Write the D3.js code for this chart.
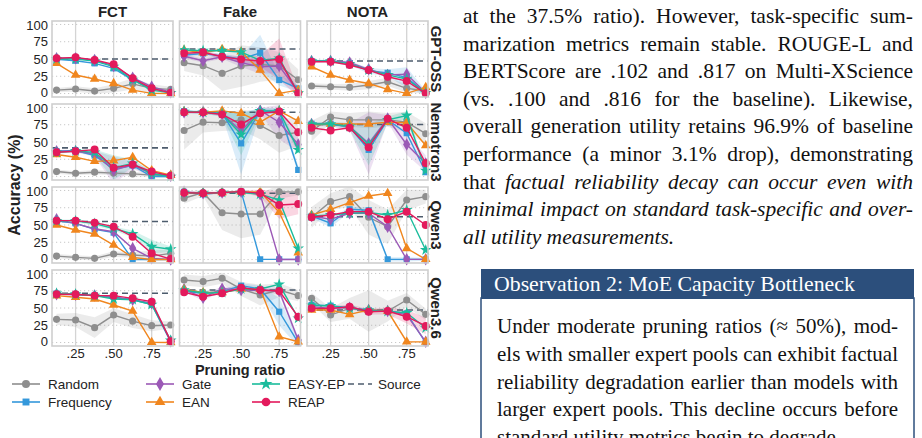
<!DOCTYPE html>
<html lang="en">
<head>
<meta charset="utf-8"/>
<title>Pruning ratio vs accuracy</title>
<script src="https://d3js.org/d3.v7.min.js"></script>
<style>
  body { margin: 0; background: #fff; }
  svg text { font-family: "Liberation Sans", Arial, sans-serif; fill: #222; }
  svg text.serif { font-family: "Liberation Serif", "Times New Roman", serif; fill: #111; }
</style>
</head>
<body>
<script>
var width = 922, height = 438;

var tasks = ["FCT", "Fake", "NOTA"];
var models = ["GPT-OSS", "Nemotron3", "Qwen3", "Qwen3.6"];
var ratios = [0.125, 0.25, 0.375, 0.5, 0.625, 0.75, 0.875];
var xTickValues = [0.25, 0.5, 0.75];
var xTickLabels = [".25", ".50", ".75"];
var yTickValues = [0, 25, 50, 75, 100];

// panels in order: GPT-OSS FCT/Fake/NOTA, Nemotron3 ..., Qwen3 ..., Qwen3.6 ...
var sourceAcc = [50, 64.5, 47, 41.5, 93, 75.4, 55, 96, 62, 71.3, 76, 47];

var randomAcc = [
  [5, 6.5, 3.6, 7.5, 14, 7.5, 6], [44.6, 40.3, 29.2, 39.8, 42, 40, 20], [10.9, 9.9, 9, 12.3, 17, 7.5, 4],
  [7.2, 4.8, 6.3, 5, 3.8, 2, 2], [66.7, 78.7, 77.8, 82, 74, 59.4, 64.2], [65.7, 86, 82, 82, 82, 78.7, 62],
  [5, 3.2, 1.7, 8, 6.5, 5, 9], [88.7, 96.8, 67.8, 66, 66, 98, 98], [61.2, 83.8, 91, 61.2, 47.5, 86.2, 91],
  [33.6, 32.6, 21.5, 39.8, 31, 24.4, 25.4], [90.6, 88.2, 93, 77.5, 68.8, 76, 67.9], [64, 39.8, 49.5, 45.6, 45.6, 61.6, 40.8]
];
var frequencyAcc = [
  [49.6, 47.5, 43.7, 36.5, 19.6, 7.5, 1], [55.8, 58, 54.3, 49.6, 59, 19.6, 7.5], [47, 47, 44, 33, 30, 23, 1],
  [36.7, 37.7, 30.4, 11, 16, 0, 0], [94.6, 93, 91.3, 48, 94.6, 94.6, 9.6], [76.4, 76.4, 71.5, 38.6, 82, 62.8, 6.3],
  [56, 52.4, 43.7, 38.9, 0, 0, 0], [98, 94.6, 96.8, 98.3, 0.3, 0.3, 0.3], [63, 52.5, 72.8, 71.3, 0.3, 0.3, 0.3],
  [71, 70, 68, 66, 62, 55, 1], [74.6, 71.3, 73.6, 82.3, 77.5, 44.6, 0], [54.3, 53.4, 50.5, 47, 45.6, 42.3, 0]
];
var gateAcc = [
  [51, 51, 48.5, 40, 23, 10, 2], [54, 47.5, 53.3, 44.6, 38.8, 39.8, 2.6], [47, 47, 45, 35, 27, 28, 1],
  [36.7, 36.7, 33, 9, 17, 4, 1], [93, 93, 91, 65.7, 95.6, 78.7, 46.4], [76, 75.4, 72.5, 48, 84, 46.4, 19],
  [58.2, 52, 44.6, 40.3, 16.2, 1.7, 0], [98, 96, 97, 98, 94.6, 0, 0], [63, 58.3, 67, 67, 47.5, 0.3, 0.3],
  [70, 69, 68, 65, 62, 57, 2], [77, 65, 78, 76, 76, 74.6, 3.6], [52, 49.5, 50.5, 47, 45.6, 40, 1]
];
var eanAcc = [
  [43.8, 26.8, 21, 14.7, 5, 0.3, 0], [63, 59, 64, 60.6, 34, 0.3, 5], [38.8, 26.8, 19.6, 14.6, 6, 0.3, 9],
  [32, 28, 22, 23, 28, 8.7, 2], [94, 93, 95, 91.7, 78.7, 95, 80.2], [75, 76, 76, 76, 78.7, 77.8, 45],
  [50, 42.7, 37, 21, 3.2, 0, 0], [97, 96, 97, 98, 98, 68.4, 10], [64.5, 72.7, 82.3, 92, 96, 16.2, 0.3],
  [67.9, 65.5, 63, 54.3, 45.6, 0.3, 0], [77, 72.5, 72.5, 77.5, 77.5, 8.4, 1.2], [47, 47, 40.8, 47, 45.6, 1.2, 1]
];
var easyepAcc = [
  [50, 50, 47, 39, 20, 5, 1], [63, 62, 62, 60, 48, 51, 0.5], [47, 47, 43, 34, 27, 21, 1],
  [35, 37, 35, 13, 19, 4, 0], [94, 93, 91, 60.9, 95, 95, 38.6], [76, 76, 72.5, 46, 82, 88.4, 8.7],
  [56, 56, 52, 45, 37, 18.6, 15], [97, 96, 97, 97, 94.6, 86, 16], [63, 64.5, 67, 68, 64.5, 71.7, 13.8],
  [71, 70, 68, 63, 62, 55, 3], [76, 71.3, 72.5, 77.5, 77.5, 84.3, 35], [54, 53, 49.5, 47, 45, 43, 21]
];
var reapAcc = [
  [51, 52.4, 48.5, 42.3, 22, 7.5, 1], [58.2, 59.7, 53.3, 49.5, 47, 49.5, 0.3], [46, 46, 41.3, 34, 24.3, 18, 0.3],
  [35.2, 36.7, 39, 12.6, 17.4, 7.2, 1], [93.2, 93, 89.8, 75.4, 91.7, 94.2, 64.2], [70.5, 66.7, 70.5, 42.5, 83.6, 70.5, 19.3],
  [56.3, 56.3, 53.4, 47.6, 33, 9, 0.7], [96.8, 96, 96.8, 98.3, 96, 79, 80.4], [61.2, 64.5, 69.3, 69.3, 58.3, 69.3, 50],
  [69.9, 69.9, 67.9, 67.9, 64, 59.2, 2], [72.7, 66.4, 71.3, 79.4, 76, 74.6, 37.4], [49.5, 49.5, 51.9, 44.6, 45.6, 37.4, 24]
];

// half-width of the shaded spread around the Random line
var randomSpread = [
  [3, 4, 4, 6, 8, 6, 4], [12, 14, 25, 30, 25, 20, 15], [4, 4, 5, 6, 6, 6, 4],
  [3, 3, 3, 3, 3, 3, 3], [28, 15, 12, 15, 20, 25, 20], [15, 8, 10, 12, 10, 15, 15],
  [3, 3, 3, 4, 4, 8, 6], [8, 5, 25, 35, 30, 10, 5], [15, 12, 15, 25, 25, 15, 10],
  [8, 10, 15, 10, 10, 8, 5], [8, 8, 8, 10, 15, 10, 8], [8, 10, 15, 30, 15, 10, 8]
];
// visible spreads of the pruning methods: [method, panel, half-widths]
var methodSpread = [
  ["Frequency", 1, [3, 3, 3, 4, 26, 8, 5]],
  ["REAP", 1, [3, 3, 3, 4, 8, 30, 5]],
  ["Gate", 1, [3, 3, 3, 6, 10, 10, 5]],
  ["Frequency", 2, [2, 2, 3, 4, 5, 15, 3]],
  ["Gate", 3, [2, 2, 4, 20, 6, 4, 2]],
  ["EASY-EP", 3, [2, 2, 4, 18, 6, 4, 2]],
  ["Frequency", 4, [2, 2, 4, 45, 4, 4, 6]],
  ["EASY-EP", 4, [2, 2, 4, 30, 4, 4, 6]],
  ["Gate", 4, [2, 2, 3, 8, 4, 25, 10]],
  ["Gate", 5, [3, 3, 5, 45, 5, 15, 12]],
  ["EASY-EP", 5, [3, 3, 5, 30, 5, 6, 6]],
  ["EASY-EP", 6, [2, 2, 3, 3, 5, 10, 4]],
  ["REAP", 7, [2, 2, 2, 2, 5, 20, 15]],
  ["Frequency", 8, [3, 6, 4, 4, 3, 3, 2]],
  ["Frequency", 10, [3, 3, 3, 3, 5, 20, 6]],
  ["Gate", 10, [3, 5, 3, 3, 3, 5, 4]],
  ["REAP", 11, [3, 3, 3, 4, 5, 10, 12]]
];

var methods = ["Random", "Frequency", "Gate", "EAN", "EASY-EP", "REAP"];
var methodData = {
  "Random": randomAcc, "Frequency": frequencyAcc, "Gate": gateAcc,
  "EAN": eanAcc, "EASY-EP": easyepAcc, "REAP": reapAcc
};
var color = d3.scaleOrdinal()
  .domain(methods)
  .range(["#8e8e8e", "#3498db", "#9b59b6", "#f0861e", "#1abc9c", "#e31a5c"]);
var shape = d3.scaleOrdinal()
  .domain(methods)
  .range([d3.symbolCircle, d3.symbolSquare, d3.symbolDiamond, d3.symbolTriangle, d3.symbolStar, d3.symbolCircle]);
var shapeSize = { "Random": 40, "Frequency": 38, "Gate": 45, "EAN": 40, "EASY-EP": 42, "REAP": 50 };
var sourceColor = "#4d5c6d";

var colLeft = [52, 179.5, 307], rowTop = [21, 104, 187, 270];
var pw = 121, ph = 76;

var svg = d3.select("body").append("svg")
  .attr("width", width).attr("height", height);

var defs = svg.append("defs");

tasks.forEach(function (task, c) {
  svg.append("text")
    .attr("x", colLeft[c] + pw / 2).attr("y", 17)
    .attr("text-anchor", "middle")
    .attr("font-size", 15).attr("font-weight", "bold")
    .text(task);
});

models.forEach(function (model, r) {
  tasks.forEach(function (task, c) {
    var p = r * 3 + c;
    var x = d3.scaleLinear().domain([0.095, 0.89]).range([colLeft[c], colLeft[c] + pw]);
    var y = d3.scaleLinear().domain([-5, 105]).range([rowTop[r] + ph, rowTop[r]]);
    var g = svg.append("g");

    defs.append("clipPath").attr("id", "clip" + p)
      .append("rect")
      .attr("x", colLeft[c]).attr("y", rowTop[r])
      .attr("width", pw).attr("height", ph);

    g.append("rect")
      .attr("x", colLeft[c]).attr("y", rowTop[r])
      .attr("width", pw).attr("height", ph)
      .attr("fill", "#fff");

    g.selectAll(".hgrid").data(yTickValues).enter().append("line")
      .attr("x1", colLeft[c]).attr("x2", colLeft[c] + pw)
      .attr("y1", function (d) { return y(d); }).attr("y2", function (d) { return y(d); })
      .attr("stroke", "#c8c8c8").attr("stroke-width", 1)
      .attr("stroke-dasharray", "1.2,2.8");

    g.selectAll(".vgrid").data(xTickValues).enter().append("line")
      .attr("y1", rowTop[r]).attr("y2", rowTop[r] + ph)
      .attr("x1", function (d) { return x(d); }).attr("x2", function (d) { return x(d); })
      .attr("stroke", "#d4d4d4").attr("stroke-width", 1.3);

    var area = d3.area()
      .x(function (d) { return x(d[0]); })
      .y0(function (d) { return y(d[1] - d[2]); })
      .y1(function (d) { return y(d[1] + d[2]); });

    var bands = g.append("g").attr("clip-path", "url(#clip" + p + ")");
    bands.append("path")
      .attr("d", area(ratios.map(function (v, i) { return [v, randomAcc[p][i], randomSpread[p][i]]; })))
      .attr("fill", "#9a9a9a").attr("fill-opacity", 0.2);
    methodSpread.filter(function (s) { return s[1] === p; }).forEach(function (s) {
      var vals = methodData[s[0]][p];
      bands.append("path")
        .attr("d", area(ratios.map(function (v, i) { return [v, vals[i], s[2][i]]; })))
        .attr("fill", color(s[0])).attr("fill-opacity", 0.18);
    });

    g.append("line")
      .attr("x1", colLeft[c]).attr("x2", colLeft[c] + pw)
      .attr("y1", y(sourceAcc[p])).attr("y2", y(sourceAcc[p]))
      .attr("stroke", sourceColor).attr("stroke-width", 1.6)
      .attr("stroke-dasharray", "6,4");

    var line = d3.line()
      .x(function (d, i) { return x(ratios[i]); })
      .y(function (d) { return y(d); });

    methods.forEach(function (m) {
      var vals = methodData[m][p];
      g.append("path")
        .attr("d", line(vals))
        .attr("fill", "none")
        .attr("stroke", color(m)).attr("stroke-width", 1.4);
      g.selectAll(".pt").data(vals).enter().append("path")
        .attr("d", d3.symbol().type(shape(m)).size(shapeSize[m]))
        .attr("transform", function (d, i) { return "translate(" + x(ratios[i]) + "," + y(d) + ")"; })
        .attr("fill", color(m));
    });

    g.append("rect")
      .attr("x", colLeft[c]).attr("y", rowTop[r])
      .attr("width", pw).attr("height", ph)
      .attr("fill", "none").attr("stroke", "#cfcfcf").attr("stroke-width", 1.6);

    if (c === 0) {
      // labels at the panel edges are nudged inward so neighbouring rows do not collide
      g.selectAll(".ylab").data(yTickValues).enter().append("text")
        .attr("x", colLeft[c] - 4)
        .attr("y", function (d) { return y(d) + (d === 0 ? -1 : d === 100 ? 1 : 0); })
        .attr("dy", "0.35em")
        .attr("text-anchor", "end")
        .attr("font-size", 13).attr("fill", "#333")
        .text(function (d) { return d; });
    }
    if (r === models.length - 1) {
      g.selectAll(".xlab").data(xTickValues).enter().append("text")
        .attr("x", function (d) { return x(d); })
        .attr("y", rowTop[r] + ph + 12)
        .attr("text-anchor", "middle")
        .attr("font-size", 13).attr("fill", "#333")
        .text(function (d, i) { return xTickLabels[i]; });
    }
  });

  var cy = rowTop[r] + ph / 2;
  svg.append("text")
    .attr("transform", "translate(431," + cy + ") rotate(90)")
    .attr("text-anchor", "middle")
    .attr("font-size", 15).attr("font-weight", "bold")
    .text(model);
});

svg.append("text")
  .attr("transform", "translate(20,185) rotate(-90)")
  .attr("text-anchor", "middle")
  .attr("font-size", 16).attr("font-weight", "bold")
  .text("Accuracy (%)");

svg.append("text")
  .attr("x", 240).attr("y", 375)
  .attr("text-anchor", "middle")
  .attr("font-size", 14.5).attr("font-weight", "bold")
  .text("Pruning ratio");

// legend
var legendItems = [
  ["Random", 12, 384], ["Gate", 146, 384], ["EASY-EP", 252, 384], ["Source", 348, 384],
  ["Frequency", 12, 402], ["EAN", 146, 402], ["REAP", 252, 402]
];
legendItems.forEach(function (it) {
  var lg = svg.append("g").attr("transform", "translate(" + it[1] + "," + it[2] + ")");
  if (it[0] === "Source") {
    lg.append("line").attr("x1", 0).attr("x2", 24)
      .attr("stroke", sourceColor).attr("stroke-width", 1.6).attr("stroke-dasharray", "6,4");
  } else {
    lg.append("line").attr("x1", 0).attr("x2", 28)
      .attr("stroke", color(it[0])).attr("stroke-width", 1.6);
    lg.append("path").attr("transform", "translate(14,0)")
      .attr("d", d3.symbol().type(shape(it[0])).size(shapeSize[it[0]] + 10))
      .attr("fill", color(it[0]));
  }
  lg.append("text").attr("x", it[0] === "Source" ? 30 : 36).attr("y", 0).attr("dy", "0.35em")
    .attr("font-size", 13.5).attr("fill", "#333")
    .text(it[0]);
});

// spread words so a line fills the given width
function justify(t, target) {
  var natural = t.node().getComputedTextLength();
  var spaces = (t.text().match(/ /g) || []).length;
  if (spaces > 0) t.attr("word-spacing", (target - natural) / spaces);
}

// body text of the page
var paraLines = [
  ["at the 37.5% ratio). However, task-specific sum-", true, false],
  ["marization metrics remain stable. ROUGE-L and", true, false],
  ["BERTScore are .102 and .817 on Multi-XScience", true, false],
  ["(vs. .100 and .816 for the baseline). Likewise,", true, false],
  ["overall generation utility retains 96.9% of baseline", true, false],
  ["performance (a minor 3.1% drop), demonstrating", true, false],
  ["that |factual reliability decay can occur even with", true, true],
  ["minimal impact on standard task-specific and over-", true, true],
  ["all utility measurements.", false, true]
];
paraLines.forEach(function (l, i) {
  var t = svg.append("text").attr("class", "serif")
    .attr("x", 463).attr("y", 23 + i * 27.6)
    .attr("font-size", 21.5);
  var parts = l[0].split("|");
  if (parts.length === 2) {
    t.append("tspan").text(parts[0]);
    t.append("tspan").attr("font-style", "italic").text(parts[1]);
  } else {
    t.append("tspan").attr("font-style", l[2] ? "italic" : "normal").text(parts[0]);
  }
  if (l[1]) justify(t, 450);
});

svg.append("rect")
  .attr("x", 481).attr("y", 298).attr("width", 433).attr("height", 160)
  .attr("fill", "#fff").attr("stroke", "#2c4f7c").attr("stroke-width", 1.5);
svg.append("rect")
  .attr("x", 481).attr("y", 269).attr("width", 433).attr("height", 30)
  .attr("fill", "#2c4f7c");
svg.append("text").attr("class", "serif")
  .attr("x", 494).attr("y", 291)
  .attr("font-size", 21.8).style("fill", "#fff")
  .text("Observation 2: MoE Capacity Bottleneck");

var boxLines = [
  ["Under moderate pruning ratios (\u2248 50%), mod-", true],
  ["els with smaller expert pools can exhibit factual", true],
  ["reliability degradation earlier than models with", true],
  ["larger expert pools. This decline occurs before", true],
  ["standard utility metrics begin to degrade.", false]
];
boxLines.forEach(function (l, i) {
  var t = svg.append("text").attr("class", "serif")
    .attr("x", 497).attr("y", 333 + i * 27.8)
    .attr("font-size", 21)
    .text(l[0]);
  if (l[1]) justify(t, 401);
});
</script>
</body>
</html>
